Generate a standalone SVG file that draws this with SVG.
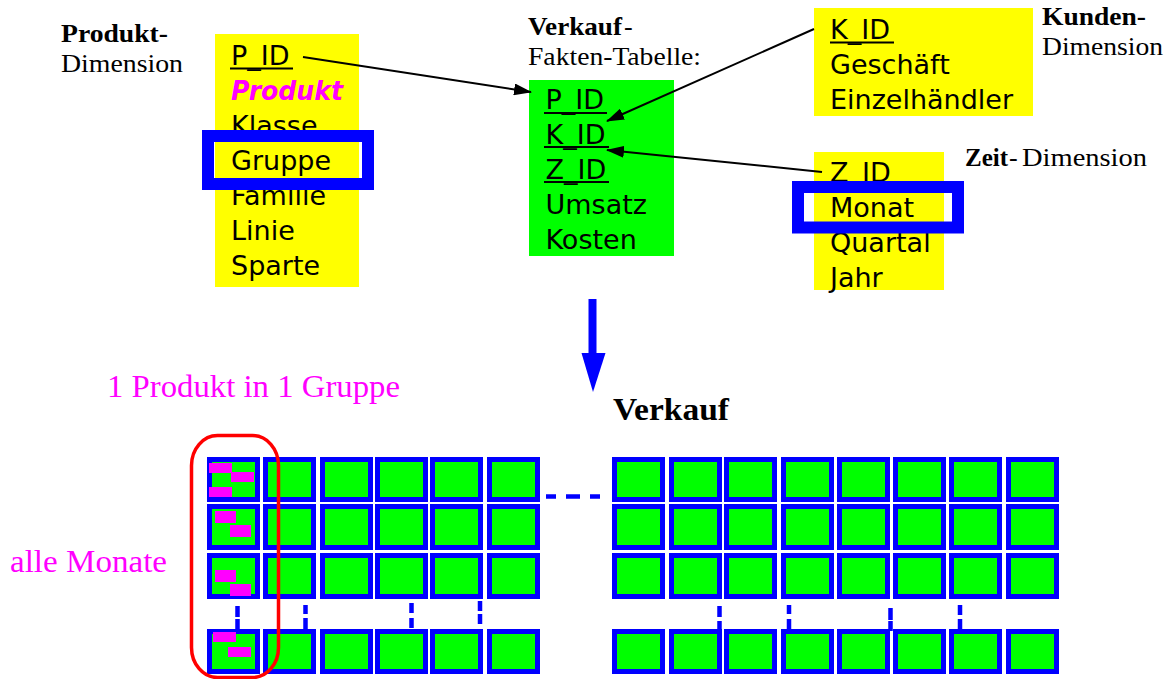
<svg xmlns="http://www.w3.org/2000/svg" width="1169" height="679" viewBox="0 0 1169 679">
  <style>
    .lbl { font-family: "Liberation Serif", "Times New Roman", serif; font-size: 26px; fill: #000; }
    .b { font-weight: bold; }
    .big { font-size: 31px; }
    .attr { font-family: "DejaVu Sans", "Verdana", sans-serif; font-size: 27px; fill: #000; }
    .key { font-weight: bold; font-style: italic; fill: #FF00FF; }
    .ul { stroke: #000; stroke-width: 2; }
    .dim { fill: #FFFF00; }
    .fact { fill: #00FF00; }
    .hl { fill: none; stroke: #0000FF; stroke-width: 12; }
    .link { stroke: #000; stroke-width: 2; fill: none; marker-end: url(#head); }
    .cell { fill: #00FF00; stroke: #0000FF; stroke-width: 5; }
    .mark { fill: #FF00FF; }
    .dash { stroke: #0000FF; stroke-width: 4.5; fill: none; }
    .note { font-family: "Liberation Serif", "Times New Roman", serif; font-size: 32px; fill: #FF00FF; }
  </style>
  <defs>
    <marker id="head" markerUnits="userSpaceOnUse" markerWidth="18" markerHeight="12" refX="17" refY="6" orient="auto">
      <path d="M0,0 L18,6 L0,12 Z" fill="#000"/>
    </marker>
  </defs>
  <rect width="1169" height="679" fill="#fff"/>

  <!-- Produkt dimension -->
  <g id="produkt-dimension">
    <text class="lbl b" x="61" y="42" textLength="107" lengthAdjust="spacingAndGlyphs">Produkt-</text>
    <text class="lbl" x="61" y="72" textLength="122" lengthAdjust="spacingAndGlyphs">Dimension</text>
    <rect class="dim" x="215" y="34" width="144" height="253"/>
    <text class="attr" x="231" y="65">P_ID</text>
    <line class="ul" x1="230" y1="68.5" x2="293" y2="68.5"/>
    <text class="attr key" x="231" y="100" textLength="112" lengthAdjust="spacingAndGlyphs">Produkt</text>
    <text class="attr" x="231" y="135">Klasse</text>
    <text class="attr" x="231" y="170">Gruppe</text>
    <text class="attr" x="231" y="205">Familie</text>
    <text class="attr" x="231" y="240">Linie</text>
    <text class="attr" x="231" y="275">Sparte</text>
    <rect class="hl" x="208" y="136" width="160" height="48"/>
  </g>

  <!-- Verkauf fact table -->
  <g id="verkauf-fakten">
    <text class="lbl b" x="528" y="35" textLength="94" lengthAdjust="spacingAndGlyphs">Verkauf</text>
    <text class="lbl" x="624" y="35">-</text>
    <text class="lbl" x="528" y="65" textLength="173" lengthAdjust="spacingAndGlyphs">Fakten-Tabelle:</text>
    <rect class="fact" x="529" y="80" width="145" height="176"/>
    <text class="attr" x="545.5" y="109">P_ID</text>
    <line class="ul" x1="544" y1="113" x2="607" y2="113"/>
    <text class="attr" x="545.5" y="144">K_ID</text>
    <line class="ul" x1="544" y1="147" x2="609" y2="147"/>
    <text class="attr" x="545.5" y="179">Z_ID</text>
    <line class="ul" x1="544" y1="182" x2="609" y2="182"/>
    <text class="attr" x="545.5" y="214">Umsatz</text>
    <text class="attr" x="545.5" y="249">Kosten</text>
  </g>

  <!-- Kunden dimension -->
  <g id="kunden-dimension">
    <rect class="dim" x="814" y="8" width="219" height="108"/>
    <text class="attr" x="830" y="38.5">K_ID</text>
    <line class="ul" x1="830" y1="42.5" x2="894" y2="42.5"/>
    <text class="attr" x="830" y="73.5">Geschäft</text>
    <text class="attr" x="830" y="108.5">Einzelhändler</text>
    <text class="lbl b" x="1042" y="25" textLength="104" lengthAdjust="spacingAndGlyphs">Kunden-</text>
    <text class="lbl" x="1042" y="55" textLength="121" lengthAdjust="spacingAndGlyphs">Dimension</text>
  </g>

  <!-- Zeit dimension -->
  <g id="zeit-dimension">
    <rect class="dim" x="814" y="152" width="130" height="138"/>
    <text class="attr" x="830" y="182">Z_ID</text>
    <text class="attr" x="830" y="217">Monat</text>
    <text class="attr" x="830" y="252">Quartal</text>
    <text class="attr" x="830" y="287">Jahr</text>
    <rect class="hl" x="798" y="187" width="160" height="40.5"/>
    <text class="lbl b" x="965" y="166" textLength="43" lengthAdjust="spacingAndGlyphs">Zeit</text>
    <text class="lbl" x="1009" y="166">-</text>
    <text class="lbl" x="1022" y="166" textLength="125" lengthAdjust="spacingAndGlyphs">Dimension</text>
  </g>

  <!-- foreign key links -->
  <g id="connectors">
    <line class="link" x1="303" y1="57" x2="531" y2="92"/>
    <line class="link" x1="814" y1="29" x2="607" y2="121"/>
    <line class="link" x1="822" y1="172" x2="607" y2="150"/>
    <!-- derivation arrow -->
    <line x1="592.5" y1="299" x2="592.5" y2="355" stroke="#0000FF" stroke-width="8"/>
    <path d="M581.5,353 L605.5,353 L593,392 Z" fill="#0000FF"/>
  </g>

  <!-- Verkauf cube -->
  <g id="verkauf-cube">
    <text class="lbl b big" x="613" y="420" textLength="116" lengthAdjust="spacingAndGlyphs">Verkauf</text>
    <!-- left block -->
    <rect class="cell" x="209.5" y="459.5" width="48" height="40"/>
    <rect class="cell" x="265.5" y="459.5" width="48" height="40"/>
    <rect class="cell" x="322.5" y="459.5" width="48" height="40"/>
    <rect class="cell" x="377.5" y="459.5" width="48" height="40"/>
    <rect class="cell" x="432.5" y="459.5" width="48" height="40"/>
    <rect class="cell" x="489.5" y="459.5" width="48" height="40"/>
    <rect class="cell" x="209.5" y="506.5" width="48" height="41"/>
    <rect class="cell" x="265.5" y="506.5" width="48" height="41"/>
    <rect class="cell" x="322.5" y="506.5" width="48" height="41"/>
    <rect class="cell" x="377.5" y="506.5" width="48" height="41"/>
    <rect class="cell" x="432.5" y="506.5" width="48" height="41"/>
    <rect class="cell" x="489.5" y="506.5" width="48" height="41"/>
    <rect class="cell" x="209.5" y="555.5" width="48" height="41"/>
    <rect class="cell" x="265.5" y="555.5" width="48" height="41"/>
    <rect class="cell" x="322.5" y="555.5" width="48" height="41"/>
    <rect class="cell" x="377.5" y="555.5" width="48" height="41"/>
    <rect class="cell" x="432.5" y="555.5" width="48" height="41"/>
    <rect class="cell" x="489.5" y="555.5" width="48" height="41"/>
    <rect class="cell" x="209.5" y="631.5" width="48" height="40"/>
    <rect class="cell" x="265.5" y="631.5" width="48" height="40"/>
    <rect class="cell" x="322.5" y="631.5" width="48" height="40"/>
    <rect class="cell" x="377.5" y="631.5" width="48" height="40"/>
    <rect class="cell" x="432.5" y="631.5" width="48" height="40"/>
    <rect class="cell" x="489.5" y="631.5" width="48" height="40"/>
    <!-- right block -->
    <rect class="cell" x="614.5" y="459.5" width="48" height="40"/>
    <rect class="cell" x="671.5" y="459.5" width="48" height="40"/>
    <rect class="cell" x="726.5" y="459.5" width="48" height="40"/>
    <rect class="cell" x="783.5" y="459.5" width="48" height="40"/>
    <rect class="cell" x="839.5" y="459.5" width="48" height="40"/>
    <rect class="cell" x="895.5" y="459.5" width="48" height="40"/>
    <rect class="cell" x="951.5" y="459.5" width="48" height="40"/>
    <rect class="cell" x="1008.5" y="459.5" width="48" height="40"/>
    <rect class="cell" x="614.5" y="506.5" width="48" height="41"/>
    <rect class="cell" x="671.5" y="506.5" width="48" height="41"/>
    <rect class="cell" x="726.5" y="506.5" width="48" height="41"/>
    <rect class="cell" x="783.5" y="506.5" width="48" height="41"/>
    <rect class="cell" x="839.5" y="506.5" width="48" height="41"/>
    <rect class="cell" x="895.5" y="506.5" width="48" height="41"/>
    <rect class="cell" x="951.5" y="506.5" width="48" height="41"/>
    <rect class="cell" x="1008.5" y="506.5" width="48" height="41"/>
    <rect class="cell" x="614.5" y="555.5" width="48" height="41"/>
    <rect class="cell" x="671.5" y="555.5" width="48" height="41"/>
    <rect class="cell" x="726.5" y="555.5" width="48" height="41"/>
    <rect class="cell" x="783.5" y="555.5" width="48" height="41"/>
    <rect class="cell" x="839.5" y="555.5" width="48" height="41"/>
    <rect class="cell" x="895.5" y="555.5" width="48" height="41"/>
    <rect class="cell" x="951.5" y="555.5" width="48" height="41"/>
    <rect class="cell" x="1008.5" y="555.5" width="48" height="41"/>
    <rect class="cell" x="614.5" y="631.5" width="48" height="40"/>
    <rect class="cell" x="671.5" y="631.5" width="48" height="40"/>
    <rect class="cell" x="726.5" y="631.5" width="48" height="40"/>
    <rect class="cell" x="783.5" y="631.5" width="48" height="40"/>
    <rect class="cell" x="839.5" y="631.5" width="48" height="40"/>
    <rect class="cell" x="895.5" y="631.5" width="48" height="40"/>
    <rect class="cell" x="951.5" y="631.5" width="48" height="40"/>
    <rect class="cell" x="1008.5" y="631.5" width="48" height="40"/>
    <!-- one product's monthly entries -->
    <rect class="mark" x="209" y="463" width="23" height="10"/>
    <rect class="mark" x="231" y="472" width="23" height="10"/>
    <rect class="mark" x="209" y="487" width="23" height="10"/>
    <rect class="mark" x="215" y="511" width="21" height="12"/>
    <rect class="mark" x="230" y="525" width="21" height="12"/>
    <rect class="mark" x="215" y="570" width="21" height="12"/>
    <rect class="mark" x="230" y="584" width="21" height="12"/>
    <rect class="mark" x="213" y="632" width="23" height="10"/>
    <rect class="mark" x="228" y="647" width="23" height="10"/>
    <!-- continuation dashes -->
    <path class="dash" d="M546,496.5 H556 M566,496.5 H580 M590,496.5 H600"/>
    <path class="dash" d="M237.5,606 V617 M237.5,619 V630 M305.5,605 V614 M305.5,618 V629 M411.5,603 V613 M411.5,618 V628 M480,601 V611 M480,614 V624"/>
    <path class="dash" d="M719.5,606 V617 M719.5,621 V630 M789,605 V614 M789,619 V630 M890.5,608 V620 M890.5,621 V631 M960,605 V615 M960,619 V629"/>
    <!-- selection of one product -->
    <rect x="191.5" y="435.5" width="87" height="242" rx="26" ry="30" fill="none" stroke="#FF0000" stroke-width="3.5"/>
  </g>

  <g id="notes">
    <text class="note" x="107" y="397" textLength="293" lengthAdjust="spacingAndGlyphs">1 Produkt in 1 Gruppe</text>
    <text class="note" x="10" y="572" textLength="157" lengthAdjust="spacingAndGlyphs">alle Monate</text>
  </g>
</svg>
